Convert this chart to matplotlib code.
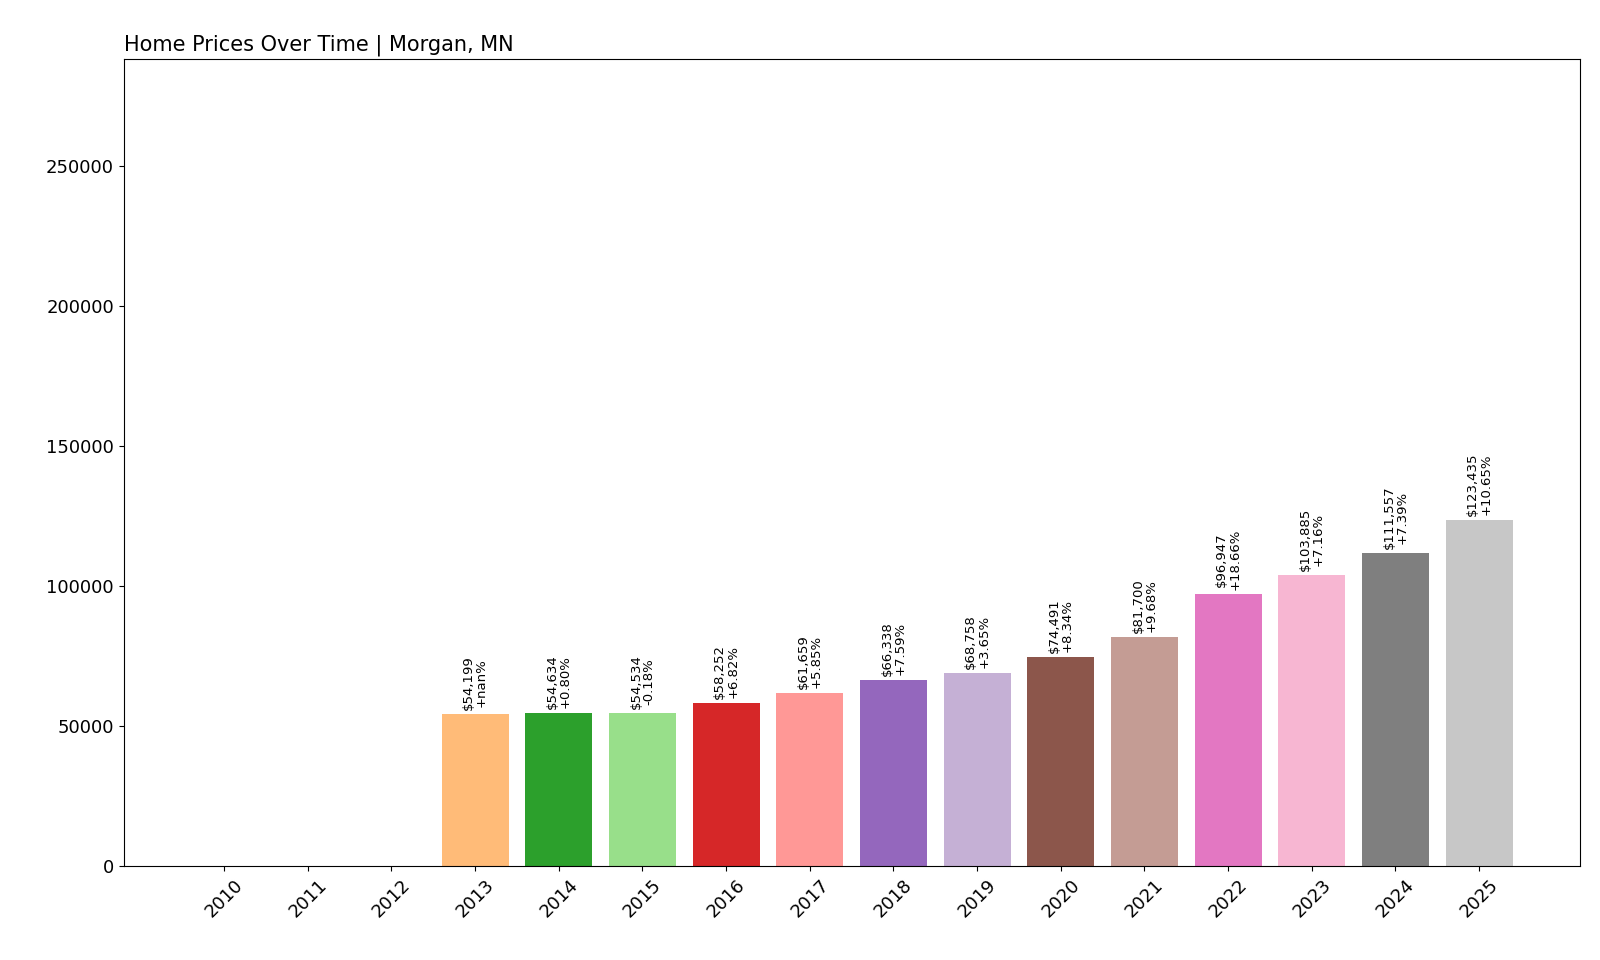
import matplotlib
matplotlib.use("Agg")
import matplotlib.pyplot as plt

years = [str(y) for y in range(2010, 2026)]
values = [0, 0, 0, 54199, 54634, 54534, 58252, 61659, 66338, 68758, 74491, 81700, 96947, 103885, 111557, 123435]
changes = [None, None, None, "+nan%", "+0.80%", "-0.18%", "+6.82%", "+5.85%", "+7.59%", "+3.65%", "+8.34%", "+9.68%", "+18.66%", "+7.16%", "+7.39%", "+10.65%"]

W, H = 1565, 939
fig = plt.figure(figsize=(16, 9.6), dpi=100)
ax = fig.add_axes([121/W, 1-847/H, (1545-121)/W, (847-58)/H])
colors = [plt.cm.tab20(i) for i in range(len(years))]
x = range(len(years))
ax.bar(x, values, color=colors)
for i, (v, c) in enumerate(zip(values, changes)):
    if v > 0:
        ax.text(i, v + 1500, f"${v:,}\n{c}", rotation=90, ha="center", va="bottom", fontsize=9.5, linespacing=1.0)
ax.set_xticks(list(x))
ax.set_xticklabels(years, rotation=45, fontsize=13)
ax.tick_params(axis="y", labelsize=13)
ax.set_ylim(0, 288000)
ax.set_xlim(-1.2, 16.2)
ax.set_title("Home Prices Over Time | Morgan, MN", loc="left", fontsize=15)
fig.savefig("out.png", dpi=100)
